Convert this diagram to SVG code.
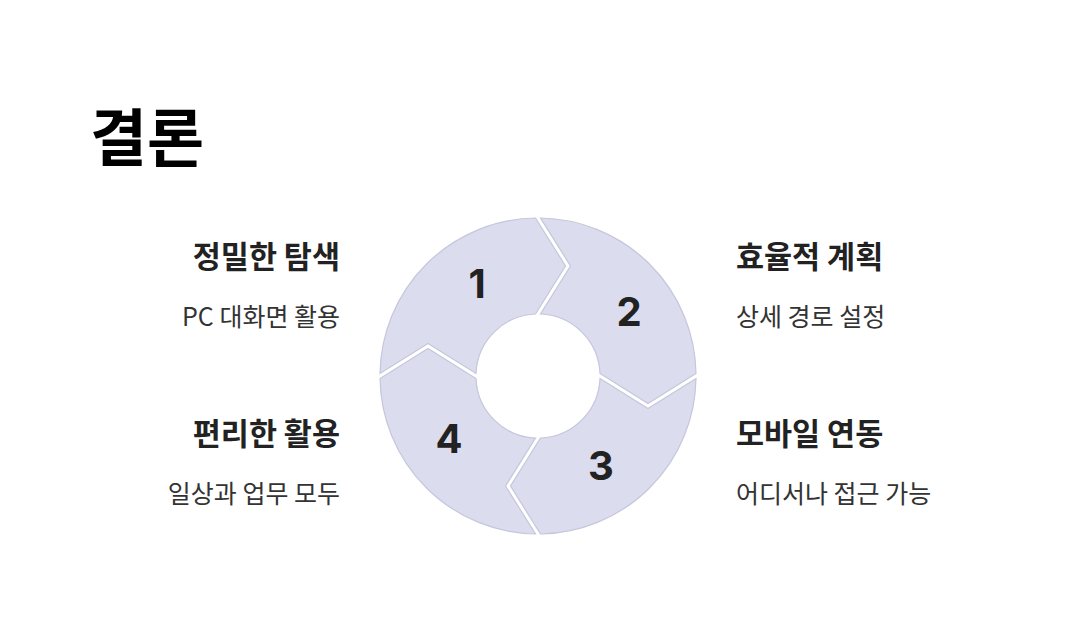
<svg xmlns="http://www.w3.org/2000/svg" width="1076" height="630" viewBox="0 0 1076 630">
<style>
.seg{fill:#dcdcef;stroke:#c6c6dc;stroke-width:1.2}
.num{font-family:Inter,"Liberation Sans",sans-serif;font-weight:700;font-size:40px;fill:#222;text-anchor:middle}
.ttl{font-family:"Noto Sans CJK KR",sans-serif;font-weight:700;font-size:30.5px;fill:#222}
.sub{font-family:"Noto Sans CJK KR",sans-serif;font-weight:400;font-size:25px;fill:#333}
.r{text-anchor:end}
</style>
<rect width="1076" height="630" fill="#fff"/>
<text x="90" y="161" style="font-family:'Noto Sans CJK KR',sans-serif;font-weight:700;font-size:62px;fill:#000">결론</text>
<g id="connectors"></g>
<g id="seg1">
<path class="seg" d="M380,373.5 A158,158 0 0 1 535.5,218 L565.5,266 L535.5,314 A62,62 0 0 0 476,373.5 L428,343.5 Z"/>
<text class="num" x="477" y="298">1</text>
</g>
<g id="seg2">
<path class="seg" d="M540.5,218 A158,158 0 0 1 696,373.5 L648,403.5 L600,373.5 A62,62 0 0 0 540.5,314 L570.5,266 Z"/>
<text class="num" x="629" y="326">2</text>
</g>
<g id="seg3">
<path class="seg" d="M696,378.5 A158,158 0 0 1 540.5,534 L510.5,486 L540.5,438 A62,62 0 0 0 600,378.5 L648,408.5 Z"/>
<text class="num" x="601" y="480">3</text>
</g>
<g id="seg4">
<path class="seg" d="M535.5,534 A158,158 0 0 1 380,378.5 L428,348.5 L476,378.5 A62,62 0 0 0 535.5,438 L505.5,486 Z"/>
<text class="num" x="449" y="453">4</text>
</g>
<g id="label1">
<text class="ttl r" x="340" y="268">정밀한 탐색</text>
<text class="sub r" x="340" y="326">PC 대화면 활용</text>
</g>
<g id="label2">
<text class="ttl" x="736" y="268">효율적 계획</text>
<text class="sub" x="736" y="326">상세 경로 설정</text>
</g>
<g id="label3">
<text class="ttl" x="736" y="445">모바일 연동</text>
<text class="sub" x="736" y="503">어디서나 접근 가능</text>
</g>
<g id="label4">
<text class="ttl r" x="340" y="445">편리한 활용</text>
<text class="sub r" x="340" y="503">일상과 업무 모두</text>
</g>
</svg>
